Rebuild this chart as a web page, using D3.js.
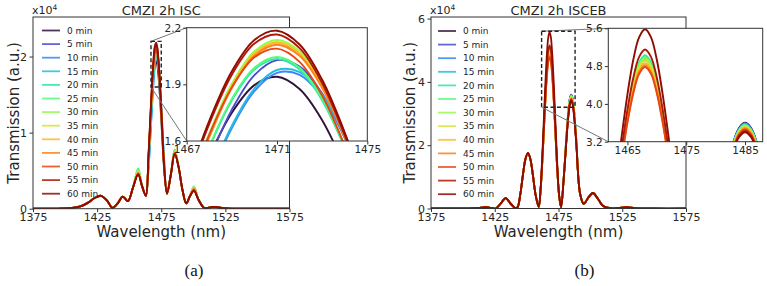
<!DOCTYPE html>
<html lang="en">
<head>
<meta charset="UTF-8" />
<title>CMZI 2h transmission</title>
<script src="https://cdnjs.cloudflare.com/ajax/libs/d3/7.8.5/d3.min.js"></script>
<style>
  body { margin: 0; background: #fff; }
  svg { display: block; font-family: "DejaVu Sans", sans-serif; }
</style>
</head>
<body>
<svg id="fig" width="767" height="286"></svg>
<script>
const minutes = [0, 5, 10, 15, 20, 25, 30, 35, 40, 45, 50, 55, 60]
const mainXTicks = [1375, 1425, 1475, 1525, 1575]

// ---- (a) CMZI 2h ISC, transmission in 1e4 a.u.
const wlA = [1375, 1395, 1405, 1412, 1418, 1423, 1428, 1433, 1437, 1441,
  1445, 1449, 1453, 1457, 1460, 1463,
  1465, 1466, 1467, 1468, 1469, 1470, 1471, 1472, 1473, 1474, 1475, 1476, 1477,
  1479.5, 1482.5, 1485.5, 1488.5, 1491.5, 1494.5, 1497.5, 1500.5,
  1504, 1508.5, 1512.5, 1517, 1522, 1530, 1550, 1575]
const headA = [0, 0.002, 0.01, 0.03, 0.08, 0.14, 0.17, 0.10, 0.01, 0.07]
const tailA = [0.12, 0.01, 0.015, 0.025, 0.01, 0.002, 0, 0]
const midA = [
  [0.16, 0.10, 0.28, 0.46, 0.30, 0.17, 0.625, 0.920, 1.231, 1.519, 1.750, 1.896, 1.940, 1.875, 1.710, 1.465, 1.170, 0.859, 0.571, 0.20, 0.45, 0.74, 0.55, 0.25, 0.07, 0.17, 0.26],
  [0.16, 0.10, 0.28, 0.48, 0.30, 0.17, 0.564, 0.863, 1.188, 1.502, 1.766, 1.949, 2.028, 1.994, 1.851, 1.616, 1.317, 0.992, 0.678, 0.20, 0.45, 0.75, 0.55, 0.25, 0.07, 0.17, 0.27],
  [0.16, 0.10, 0.28, 0.49, 0.30, 0.17, 0.500, 0.779, 1.092, 1.401, 1.669, 1.864, 1.961, 1.950, 1.832, 1.620, 1.341, 1.028, 0.719, 0.20, 0.45, 0.76, 0.55, 0.25, 0.07, 0.17, 0.28],
  [0.16, 0.10, 0.28, 0.51, 0.30, 0.17, 0.503, 0.784, 1.100, 1.411, 1.681, 1.878, 1.976, 1.965, 1.846, 1.632, 1.351, 1.036, 0.724, 0.20, 0.45, 0.77, 0.55, 0.25, 0.07, 0.17, 0.29],
  [0.16, 0.10, 0.28, 0.53, 0.30, 0.17, 0.621, 0.929, 1.256, 1.564, 1.815, 1.978, 2.035, 1.978, 1.815, 1.564, 1.256, 0.929, 0.621, 0.20, 0.45, 0.78, 0.55, 0.25, 0.07, 0.17, 0.29],
  [0.16, 0.10, 0.28, 0.52, 0.30, 0.17, 0.624, 0.933, 1.262, 1.571, 1.823, 1.988, 2.045, 1.988, 1.823, 1.571, 1.262, 0.933, 0.624, 0.20, 0.45, 0.77, 0.55, 0.25, 0.07, 0.17, 0.29],
  [0.16, 0.10, 0.28, 0.50, 0.30, 0.17, 0.646, 0.970, 1.315, 1.639, 1.903, 2.075, 2.135, 2.075, 1.903, 1.639, 1.315, 0.970, 0.646, 0.20, 0.45, 0.76, 0.55, 0.25, 0.07, 0.17, 0.28],
  [0.16, 0.10, 0.28, 0.49, 0.30, 0.17, 0.644, 0.966, 1.309, 1.631, 1.894, 2.065, 2.125, 2.065, 1.894, 1.631, 1.309, 0.966, 0.644, 0.20, 0.45, 0.75, 0.55, 0.25, 0.07, 0.17, 0.28],
  [0.16, 0.10, 0.28, 0.48, 0.30, 0.17, 0.643, 0.964, 1.306, 1.628, 1.890, 2.061, 2.120, 2.061, 1.890, 1.628, 1.306, 0.964, 0.643, 0.20, 0.45, 0.74, 0.55, 0.25, 0.07, 0.17, 0.27],
  [0.16, 0.10, 0.28, 0.47, 0.30, 0.17, 0.640, 0.960, 1.300, 1.620, 1.881, 2.051, 2.110, 2.051, 1.881, 1.620, 1.300, 0.960, 0.640, 0.20, 0.45, 0.74, 0.55, 0.25, 0.07, 0.17, 0.26],
  [0.16, 0.10, 0.28, 0.46, 0.30, 0.17, 0.665, 0.985, 1.322, 1.634, 1.884, 2.043, 2.089, 2.019, 1.841, 1.575, 1.255, 0.918, 0.606, 0.20, 0.45, 0.73, 0.55, 0.25, 0.07, 0.17, 0.25],
  [0.16, 0.10, 0.28, 0.45, 0.30, 0.17, 0.685, 1.017, 1.367, 1.691, 1.951, 2.116, 2.164, 2.092, 1.906, 1.631, 1.298, 0.948, 0.624, 0.20, 0.45, 0.72, 0.55, 0.25, 0.07, 0.17, 0.24],
  [0.16, 0.10, 0.28, 0.45, 0.30, 0.17, 0.690, 1.026, 1.379, 1.707, 1.969, 2.135, 2.184, 2.111, 1.924, 1.645, 1.309, 0.956, 0.628, 0.20, 0.45, 0.72, 0.55, 0.25, 0.07, 0.17, 0.23]
]
const yTicksA = [0, 1, 2]
const insetXTicksA = [1467, 1471, 1475]
const insetYTicksA = [1.6, 1.9, 2.2]

// ---- (b) CMZI 2h ISCEB
const wlB = [1375, 1395, 1405, 1412, 1418, 1422, 1425.8, 1429.5, 1433.6, 1437.5,
  1441.4, 1443, 1445, 1447, 1449, 1451, 1453, 1455, 1457, 1459.5,
  1461, 1462, 1463, 1464, 1465, 1466, 1467, 1468, 1469, 1470, 1471, 1472, 1473, 1474,
  1475.5, 1477, 1479, 1481, 1482, 1483, 1484, 1485, 1486, 1487, 1488, 1489,
  1492, 1494.8, 1498.5, 1502, 1506, 1510, 1515.6, 1522, 1528.6, 1535, 1550, 1575]
const headB = [0, 0, 0.005, 0.02, 0.04, 0.02, 0, 0.15, 0.33, 0.15,
  0.01, 0.05, 0.44, 1.03, 1.55, 1.76, 1.55, 1.03, 0.44, 0.05]
const tailB = [0.45, 0.15, 0.35, 0.49, 0.30, 0.08, 0.01, 0.02, 0.04, 0.01, 0, 0]
const midB = [
  [0.62, 1.270, 2.066, 2.914, 3.710, 4.359, 4.783, 4.93, 4.783, 4.359, 3.710, 2.914, 2.066, 1.270, 0.40, 0.04, 0.90, 2.133, 2.713, 3.185, 3.493, 3.60, 3.493, 3.185, 2.713, 2.133],
  [0.62, 1.275, 2.075, 2.925, 3.725, 4.377, 4.802, 4.95, 4.802, 4.377, 3.725, 2.925, 2.075, 1.275, 0.40, 0.04, 0.90, 2.127, 2.705, 3.176, 3.483, 3.59, 3.483, 3.176, 2.705, 2.127],
  [0.62, 1.280, 2.083, 2.937, 3.740, 4.394, 4.822, 4.97, 4.822, 4.394, 3.740, 2.937, 2.083, 1.280, 0.40, 0.04, 0.90, 2.121, 2.698, 3.167, 3.474, 3.58, 3.474, 3.167, 2.698, 2.121],
  [0.62, 1.285, 2.091, 2.949, 3.755, 4.412, 4.841, 4.99, 4.841, 4.412, 3.755, 2.949, 2.091, 1.285, 0.40, 0.04, 0.90, 2.116, 2.690, 3.158, 3.464, 3.57, 3.464, 3.158, 2.690, 2.116],
  [0.62, 1.295, 2.108, 2.972, 3.785, 4.447, 4.880, 5.03, 4.880, 4.447, 3.785, 2.972, 2.108, 1.295, 0.40, 0.04, 0.90, 2.110, 2.683, 3.149, 3.454, 3.56, 3.454, 3.149, 2.683, 2.110],
  [0.62, 1.288, 2.095, 2.955, 3.763, 4.421, 4.851, 5.00, 4.851, 4.421, 3.763, 2.955, 2.095, 1.288, 0.40, 0.04, 0.90, 2.104, 2.675, 3.141, 3.444, 3.55, 3.444, 3.141, 2.675, 2.104],
  [0.62, 1.278, 2.079, 2.931, 3.733, 4.386, 4.812, 4.96, 4.812, 4.386, 3.733, 2.931, 2.079, 1.278, 0.40, 0.04, 0.90, 2.098, 2.668, 3.132, 3.435, 3.54, 3.435, 3.132, 2.668, 2.098],
  [0.62, 1.268, 2.062, 2.908, 3.703, 4.350, 4.773, 4.92, 4.773, 4.350, 3.703, 2.908, 2.062, 1.268, 0.40, 0.04, 0.90, 2.086, 2.653, 3.114, 3.415, 3.52, 3.415, 3.114, 2.653, 2.086],
  [0.62, 1.253, 2.037, 2.873, 3.658, 4.297, 4.715, 4.86, 4.715, 4.297, 3.658, 2.873, 2.037, 1.253, 0.40, 0.04, 0.90, 2.075, 2.638, 3.096, 3.396, 3.50, 3.396, 3.096, 2.638, 2.075],
  [0.62, 1.243, 2.021, 2.849, 3.628, 4.262, 4.676, 4.82, 4.676, 4.262, 3.628, 2.849, 2.021, 1.243, 0.40, 0.04, 0.90, 2.063, 2.623, 3.079, 3.376, 3.48, 3.376, 3.079, 2.623, 2.063],
  [0.62, 1.233, 2.004, 2.826, 3.598, 4.227, 4.637, 4.78, 4.637, 4.227, 3.598, 2.826, 2.004, 1.233, 0.40, 0.04, 0.90, 2.051, 2.608, 3.061, 3.357, 3.46, 3.357, 3.061, 2.608, 2.051],
  [0.62, 1.325, 2.157, 3.043, 3.875, 4.553, 4.996, 5.15, 4.996, 4.553, 3.875, 3.043, 2.157, 1.325, 0.40, 0.04, 0.90, 2.033, 2.585, 3.035, 3.328, 3.43, 3.328, 3.035, 2.585, 2.033],
  [0.66, 1.433, 2.335, 3.295, 4.198, 4.933, 5.413, 5.58, 5.413, 4.933, 4.198, 3.295, 2.335, 1.433, 0.42, 0.04, 0.90, 2.016, 2.563, 3.008, 3.299, 3.40, 3.299, 3.008, 2.563, 2.016]
]
const yTicksB = [0, 2, 4, 6]
const insetXTicksB = [1465, 1475, 1485]
const insetYTicksB = [3.2, 4.0, 4.8, 5.6]

const colors = minutes.map((m, i) => i === 0 ? '#30123b' : d3.interpolateTurbo(i / 12))
const ink = '#262626'

const svg = d3.select('#fig')
const defs = svg.append('defs')

function styleAxis(a, size) {
  a.select('.domain').remove()
  a.selectAll('line').attr('stroke', '#333')
  a.selectAll('text').attr('fill', ink).style('font-size', size).style('font-family', '"DejaVu Sans", sans-serif')
}

function drawPanel(p) {
  const series = p.mid.map(row => p.head.concat(row, p.tail).map((v, i) => [p.wl[i], v]))
  const x = d3.scaleLinear().domain([1375, 1575]).range([p.left, p.right])
  const y = d3.scaleLinear().domain(p.yDomain).range([p.bottom, p.top])
  const g = svg.append('g')

  defs.append('clipPath').attr('id', p.id + '-main')
    .append('rect').attr('x', p.left).attr('y', p.top)
    .attr('width', p.right - p.left).attr('height', p.bottom - p.top)

  const line = d3.line()
    .x(d => x(d[0])).y(d => y(d[1]))
    .curve(d3.curveCatmullRom.alpha(0.5))

  g.append('g').attr('clip-path', `url(#${p.id}-main)`)
    .selectAll('path').data(series).join('path')
    .attr('d', line)
    .attr('fill', 'none')
    .attr('stroke', (d, i) => colors[i])
    .attr('stroke-width', 1.8)

  g.append('rect')
    .attr('x', p.left).attr('y', p.top)
    .attr('width', p.right - p.left).attr('height', p.bottom - p.top)
    .attr('fill', 'none').attr('stroke', '#333').attr('stroke-width', 1)

  const xAxis = g.append('g').attr('transform', `translate(0,${p.bottom})`)
    .call(d3.axisBottom(x).tickValues(mainXTicks).tickSize(3.5).tickPadding(1.5).tickFormat(d3.format('d')))
  const yAxis = g.append('g').attr('transform', `translate(${p.left},0)`)
    .call(d3.axisLeft(y).tickValues(p.yTicks).tickSize(3.5).tickPadding(2.5).tickFormat(d3.format('d')))
  styleAxis(xAxis, '11px')
  styleAxis(yAxis, '11px')

  // zoom rectangle and connectors
  const ins = p.inset
  const rx0 = x(ins.x[0]), rx1 = x(ins.x[1]), ry0 = y(ins.y[1]), ry1 = y(ins.y[0])
  g.append('line').attr('x1', rx0).attr('y1', ry0).attr('x2', ins.left).attr('y2', ins.top)
    .attr('stroke', '#777').attr('stroke-width', 1)
  g.append('line').attr('x1', rx0).attr('y1', ry1).attr('x2', ins.left).attr('y2', ins.bottom)
    .attr('stroke', '#777').attr('stroke-width', 1)
  g.append('rect').attr('x', rx0).attr('y', ry0).attr('width', rx1 - rx0).attr('height', ry1 - ry0)
    .attr('fill', 'none').attr('stroke', '#222').attr('stroke-width', 1.4).attr('stroke-dasharray', '4,2.5')

  // inset
  const xi = d3.scaleLinear().domain(ins.x).range([ins.left, ins.right])
  const yi = d3.scaleLinear().domain(ins.y).range([ins.bottom, ins.top])
  defs.append('clipPath').attr('id', p.id + '-inset')
    .append('rect').attr('x', ins.left).attr('y', ins.top)
    .attr('width', ins.right - ins.left).attr('height', ins.bottom - ins.top)
  g.append('rect').attr('x', ins.left).attr('y', ins.top)
    .attr('width', ins.right - ins.left).attr('height', ins.bottom - ins.top).attr('fill', '#fff')
  const lineI = d3.line()
    .x(d => xi(d[0])).y(d => yi(d[1]))
    .curve(d3.curveCatmullRom.alpha(0.5))
  g.append('g').attr('clip-path', `url(#${p.id}-inset)`)
    .selectAll('path').data(series).join('path')
    .attr('d', lineI)
    .attr('fill', 'none')
    .attr('stroke', (d, i) => colors[i])
    .attr('stroke-width', 1.9)
  g.append('rect').attr('x', ins.left).attr('y', ins.top)
    .attr('width', ins.right - ins.left).attr('height', ins.bottom - ins.top)
    .attr('fill', 'none').attr('stroke', '#333').attr('stroke-width', 1)
  const xiAxis = g.append('g').attr('transform', `translate(0,${ins.bottom})`)
    .call(d3.axisBottom(xi).tickValues(ins.xTicks).tickSize(3.5).tickPadding(1.5).tickFormat(d3.format('d')))
  const yiAxis = g.append('g').attr('transform', `translate(${ins.left},0)`)
    .call(d3.axisLeft(yi).tickValues(ins.yTicks).tickSize(3.5).tickPadding(2).tickFormat(d3.format('.1f')))
  styleAxis(xiAxis, '10.5px')
  styleAxis(yiAxis, '10.5px')

  // legend
  const leg = g.append('g')
  minutes.forEach((m, i) => {
    const ly = p.legend.y + i * p.legend.dy
    leg.append('line').attr('x1', p.legend.x).attr('x2', p.legend.x + 18)
      .attr('y1', ly).attr('y2', ly)
      .attr('stroke', colors[i]).attr('stroke-width', 1.8).attr('opacity', 0.85)
    leg.append('text').attr('x', p.legend.x + 25).attr('y', ly + 3.2)
      .attr('fill', ink).style('font-size', '9px').text(m + ' min')
  })

  // texts
  const cx = (p.left + p.right) / 2
  g.append('text').attr('x', cx).attr('y', 14.5).attr('text-anchor', 'middle')
    .attr('fill', ink).style('font-size', '13px').text(p.title)
  const mult = g.append('text').attr('x', p.left - 1).attr('y', 14).attr('fill', ink).style('font-size', '11px')
  mult.append('tspan').text('x10')
  mult.append('tspan').attr('dy', -4.5).style('font-size', '7.5px').text('4')
  g.append('text').attr('x', cx).attr('y', 237).attr('text-anchor', 'middle')
    .attr('fill', ink).style('font-size', '15px').text('Wavelength (nm)')
  g.append('text').attr('transform', `translate(${p.yLabelX},${(p.top + p.bottom) / 2}) rotate(-90)`)
    .attr('text-anchor', 'middle').attr('fill', ink).style('font-size', '15px').text('Transmission (a.u.)')
  g.append('text').attr('x', p.captionX).attr('y', 276).attr('text-anchor', 'middle')
    .attr('fill', '#111').style('font-family', '"Liberation Serif", serif').style('font-size', '17px').text(p.caption)
}

drawPanel({
  id: 'a', wl: wlA, head: headA, mid: midA, tail: tailA,
  left: 33, right: 289.5, top: 17, bottom: 208.7, yDomain: [0, 2.52], yTicks: yTicksA,
  inset: { left: 186.7, right: 367.3, top: 27.7, bottom: 141, x: [1467, 1475], y: [1.6, 2.2], xTicks: insetXTicksA, yTicks: insetYTicksA },
  legend: { x: 42, y: 30.5, dy: 13.6 },
  title: 'CMZI 2h ISC', caption: '(a)', captionX: 194, yLabelX: 19
})

drawPanel({
  id: 'b', wl: wlB, head: headB, mid: midB, tail: tailB,
  left: 431, right: 686, top: 17, bottom: 208.5, yDomain: [0, 6.05], yTicks: yTicksB,
  inset: { left: 608.3, right: 762.7, top: 28.3, bottom: 141.7, x: [1461.75, 1488], y: [3.2, 5.6], xTicks: insetXTicksB, yTicks: insetYTicksB },
  legend: { x: 438, y: 31, dy: 13.6 },
  title: 'CMZI 2h ISCEB', caption: '(b)', captionX: 584.5, yLabelX: 415
})
</script>
</body>
</html>
